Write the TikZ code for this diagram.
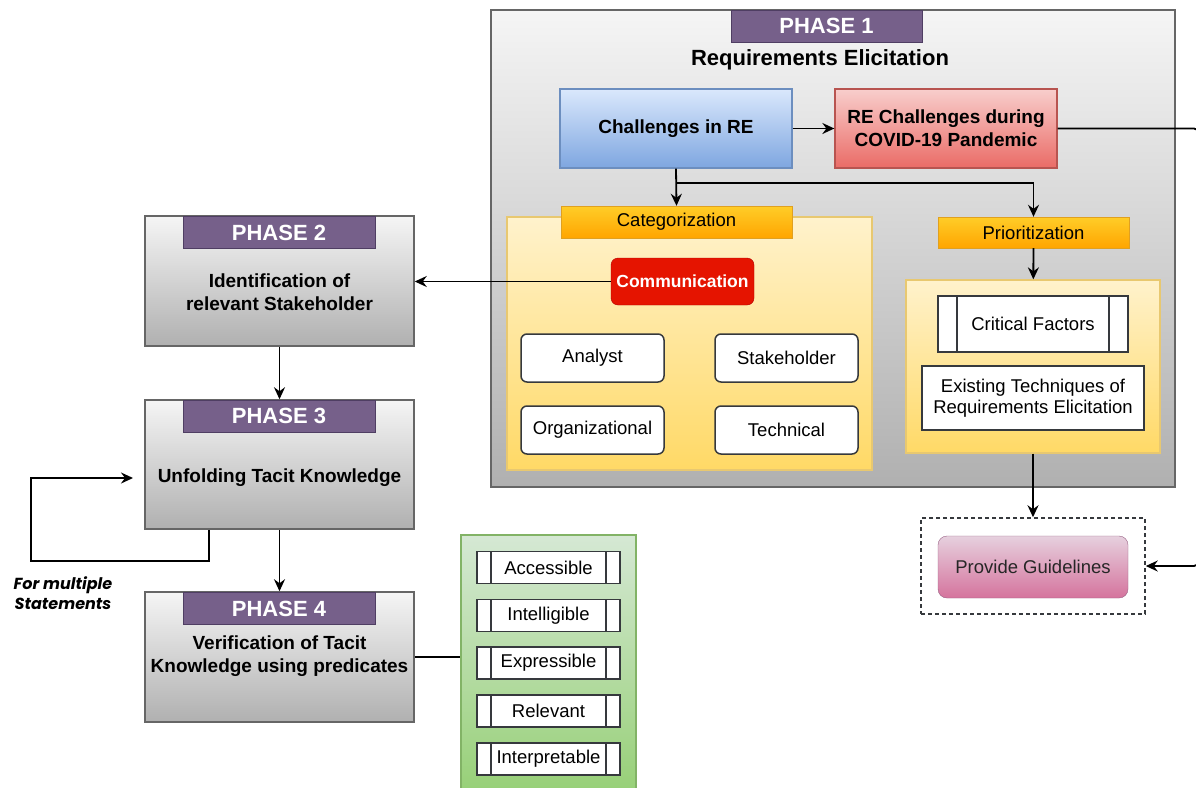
\documentclass[tikz,border=0pt]{standalone}
\usepackage{fontspec}
\setmainfont{Liberation Sans}
\newfontfamily\notefont{Poppins}
\usepackage{tikz}
\usepackage{xcolor}
\usetikzlibrary{shapes,shapes.geometric,arrows,arrows.meta,positioning,backgrounds,fit,calc}

\definecolor{tagpurple}{HTML}{76608A}
\definecolor{tagborder}{HTML}{4F3E63}
\definecolor{boxline}{HTML}{36393D}
\definecolor{grayline}{HTML}{666666}
\definecolor{graytop}{HTML}{F5F5F5}
\definecolor{graybot}{HTML}{B0B0B0}
\definecolor{bluetop}{HTML}{DAE8FC}
\definecolor{bluebot}{HTML}{7EA6E0}
\definecolor{blueline}{HTML}{6C8EBF}
\definecolor{redtop}{HTML}{F8CECC}
\definecolor{redbot}{HTML}{EA6B66}
\definecolor{redline}{HTML}{B85450}
\definecolor{yeltop}{HTML}{FFF2CC}
\definecolor{yelbot}{HTML}{FFD966}
\definecolor{yelline}{HTML}{E8C870}
\definecolor{orgtop}{HTML}{FFCD28}
\definecolor{orgbot}{HTML}{FFA500}
\definecolor{orgline}{HTML}{E0A020}
\definecolor{commred}{HTML}{E51400}
\definecolor{commline}{HTML}{B20000}
\definecolor{pinktop}{HTML}{E6D0DE}
\definecolor{pinkbot}{HTML}{D5739D}
\definecolor{pinkline}{HTML}{996185}
\definecolor{greentop}{HTML}{D5E8D4}
\definecolor{greenbot}{HTML}{97D077}
\definecolor{greenline}{HTML}{82B366}

\begin{document}
\begin{tikzpicture}[
    x=1pt, y=-1pt,
    every node/.style={font=\fontsize{18.5}{21}\selectfont, inner sep=0pt},
    phasebox/.style={rectangle, draw=grayline, line width=1.5pt, top color=graytop, bottom color=graybot},
    phasetag/.style={rectangle, draw=tagborder, fill=tagpurple, text=white, font=\fontsize{22}{24}\selectfont\bfseries, minimum width=192pt, minimum height=32pt},
    phasetext/.style={align=center, font=\fontsize{19}{23}\selectfont\bfseries},
    panel/.style={rectangle, draw=yelline, line width=1.3pt, top color=yeltop, bottom color=yelbot},
    tagbox/.style={rectangle, draw=orgline, top color=orgtop, bottom color=orgbot, minimum height=32pt},
    item/.style={rectangle, rounded corners=6pt, draw=boxline, fill=white, line width=1.5pt, minimum width=143pt, minimum height=48pt},
    sidebox/.style={rectangle, draw=boxline, fill=white, line width=1.5pt, path picture={
        \draw[boxline, line width=1.5pt] ([xshift=#1]path picture bounding box.north west) -- ([xshift=#1]path picture bounding box.south west);
        \draw[boxline, line width=1.5pt] ([xshift=-#1]path picture bounding box.north east) -- ([xshift=-#1]path picture bounding box.south east);}},
    sidebox/.default=14pt,
    arrow/.style={-{Stealth[length=12pt, width=11pt, inset=4pt]}, line width=1.8pt},
    link/.style={line width=1.8pt}
]

\path[fill=white, use as bounding box] (0,0) rectangle (1196,787);

% Phase 1
\node[phasebox, minimum width=684pt, minimum height=477pt] (ph1) at (833,248.5) {};
\node[phasetag, minimum width=191pt] (tag1) at (826.5,26) {PHASE 1};
\node[font=\fontsize{22}{24}\selectfont\bfseries] (title1) at (820,60) {Requirements Elicitation};

\node[rectangle, draw=blueline, line width=1.3pt, top color=bluetop, bottom color=bluebot, minimum width=232pt, minimum height=79pt, font=\fontsize{19}{23}\selectfont\bfseries] (chal) at (676,128.5) {Challenges in RE};
\node[rectangle, draw=redline, line width=1.3pt, top color=redtop, bottom color=redbot, minimum width=222pt, minimum height=79pt, align=center, font=\fontsize{19}{23}\selectfont\bfseries] (covid) at (946,128.5) {RE Challenges during\\COVID-19 Pandemic};

\node[panel, minimum width=365pt, minimum height=253pt] (catpanel) at (689.5,343.5) {};
\node[tagbox, minimum width=231pt] (cattag) at (676.5,222) {Categorization};
\node[rectangle, rounded corners=7pt, draw=commline, fill=commred, text=white, minimum width=143pt, minimum height=47pt, font=\fontsize{17.5}{21}\selectfont\bfseries] (comm) at (682.5,281.5) {Communication};
\node[item] (analyst) at (592.5,358) {Analyst};
\node[item] (stake) at (786.5,358) {Stakeholder};
\node[item] (orgn) at (592.5,430) {Organizational};
\node[item] (tech) at (786.5,430) {Technical};

\node[tagbox, minimum width=191pt, minimum height=31pt] (pritag) at (1033.5,232.5) {Prioritization};
\node[panel, minimum width=254pt, minimum height=173pt] (pripanel) at (1033,366.5) {};
\node[sidebox=19pt, minimum width=190pt, minimum height=56pt] (crit) at (1033,324) {Critical Factors};
\node[rectangle, draw=boxline, fill=white, line width=1.5pt, minimum width=222pt, minimum height=64pt, align=center] (exist) at (1033,398) {Existing Techniques of\\Requirements Elicitation};

% Guidelines
\node[rectangle, draw=boxline, dashed, dash pattern=on 4pt off 3pt, line width=1.5pt, minimum width=224pt, minimum height=96pt] (guidebox) at (1033,566) {};
\node[rectangle, rounded corners=9pt, draw=pinkline, top color=pinktop, bottom color=pinkbot, minimum width=190pt, minimum height=62pt, text=black!85] (guide) at (1033,567) {Provide Guidelines};

% Phases 2 to 4
\node[phasebox, minimum width=269pt, minimum height=130pt] (ph2) at (279.5,281) {};
\node[phasetag] (tag2) at (279,232.5) {PHASE 2};
\node[phasetext] (ph2txt) at (279.5,292) {Identification of\\relevant Stakeholder};

\node[phasebox, minimum width=269pt, minimum height=129pt] (ph3) at (279.5,464.5) {};
\node[phasetag] (tag3) at (279,416) {PHASE 3};
\node[phasetext] (ph3txt) at (279.5,478) {Unfolding Tacit Knowledge};

\node[phasebox, minimum width=269pt, minimum height=130pt] (ph4) at (279.5,657) {};
\node[phasetag] (tag4) at (279,608.5) {PHASE 4};
\node[phasetext] (ph4txt) at (279.5,656) {Verification of Tacit\\Knowledge using predicates};

% Predicates
\node[rectangle, draw=greenline, line width=1.3pt, top color=greentop, bottom color=greenbot, minimum width=175pt, minimum height=257pt] (preds) at (548.5,663.5) {};
\node[sidebox, minimum width=143pt, minimum height=32pt] (acc) at (548.5,567.5) {Accessible};
\node[sidebox, minimum width=143pt, minimum height=32pt] (intel) at (548.5,615.5) {Intelligible};
\node[sidebox, minimum width=143pt, minimum height=32pt] (expr) at (548.5,663) {Expressible};
\node[sidebox, minimum width=143pt, minimum height=32pt] (relv) at (548.5,711) {Relevant};
\node[sidebox, minimum width=143pt, minimum height=32pt] (interp) at (548.5,759) {Interpretable};

\node[align=center, font=\notefont\fontsize{16}{20}\selectfont\bfseries\itshape] (note) at (63,593) {For multiple\\Statements};

% Connectors
\coordinate (split) at (676,183);
\coordinate (reright) at (1198,128.5);
\coordinate (rebottom) at (1198,566);
\coordinate (loopbl) at (31,561);
\coordinate (loopin) at (133,478);

\draw[arrow] (chal) -- (covid);
\draw[arrow, rounded corners=4pt] (covid.east) -- (reright) -- (rebottom) -- (guidebox.east);
\draw[arrow] (chal.south) -- (cattag.north);
\draw[arrow] (split) -| (pritag.north);
\draw[arrow] (pritag) -- (pripanel);
\draw[arrow] (pripanel) -- (guidebox);
\draw[arrow] (comm.west) -- (ph2.east |- comm.west);
\draw[arrow] (ph2) -- (ph3);
\draw[arrow] (ph3) -- (ph4);
\draw[arrow] ([xshift=-70.5pt]ph3.south) |- (loopbl) |- (loopin);
\draw[link] (ph4.east) -- (preds.west |- ph4.east);

\end{tikzpicture}
\end{document}
